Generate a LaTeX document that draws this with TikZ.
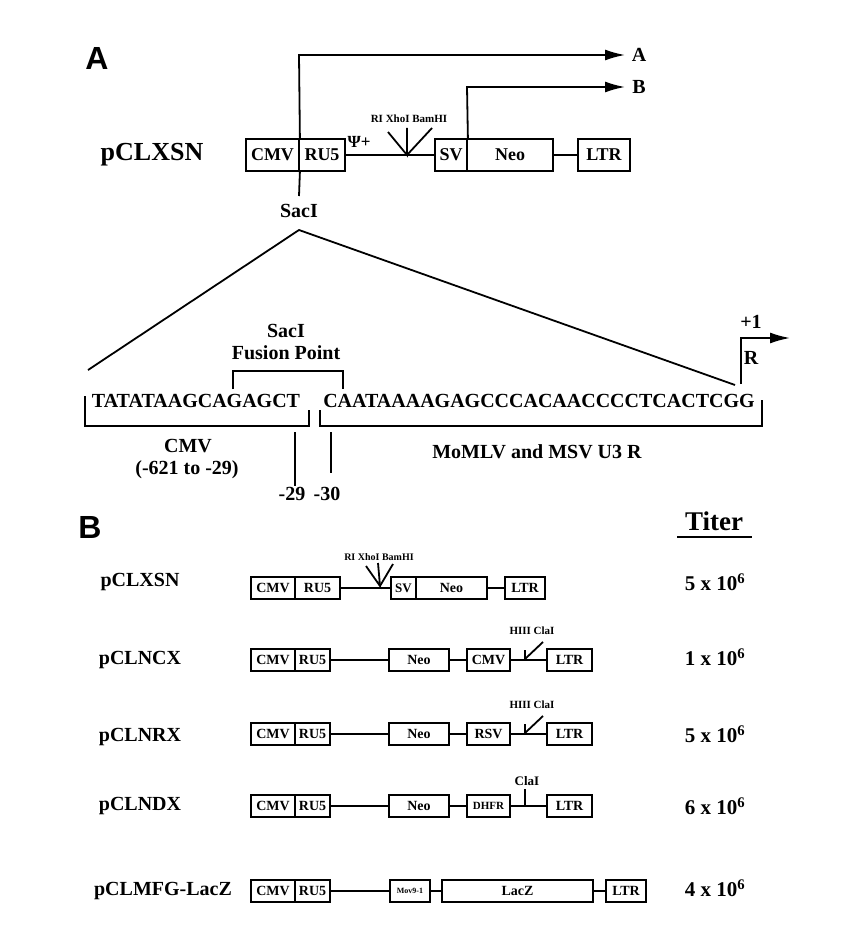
\documentclass[tikz,border=0pt]{standalone}
\usepackage{fontspec}
\usetikzlibrary{arrows.meta}
\setmainfont{Liberation Serif}
\newfontfamily\sansf{Liberation Sans}
\begin{document}
\begin{tikzpicture}[x=1pt,y=-1pt,
  bx/.style={draw,line width=1.6pt,minimum height=#1,inner sep=0pt,font=\bfseries\fontsize{14}{14}\selectfont},
  ln/.style={line width=1.8pt},
  lab/.style={font=\bfseries\fontsize{20}{20}\selectfont},
  sm/.style={font=\bfseries\fontsize{11}{11}\selectfont},
  arr/.style={line width=1.8pt,-{Latex[length=20pt,width=11pt]}}]
\useasboundingbox (0,0) rectangle (860,947);
% ---------- A ----------
\node[font=\sansf\bfseries\fontsize{32}{32}\selectfont] (LA) at (97,58) {A};
\node[font=\bfseries\fontsize{26}{26}\selectfont] (n1) at (152,155) {pCLXSN};
\tikzset{abx/.style={draw,line width=1.8pt,inner sep=0pt,minimum height=32pt,font=\bfseries\fontsize{18}{18}\selectfont}}
\node[abx,minimum width=53pt] (aCMV) at (272.5,155) {CMV};
\node[abx,minimum width=46pt] (aRU5) at (322,155) {RU5};
\node[abx,minimum width=32pt] (aSV) at (451,155) {SV};
\node[abx,minimum width=86pt] (aNeo) at (510,155) {Neo};
\node[abx,minimum width=52pt] (aLTR) at (604,155) {LTR};
\draw[ln] (aRU5.east) -- (aSV.west);
\draw[ln] (aNeo.east) -- (aLTR.west);
\coordinate (aV) at (407,155);
\draw[ln] (388,132) -- (aV) -- (407,128); \draw[ln] (aV) -- (432,128);
\node[sm] (aS) at (409,119) {RI XhoI BamHI};
\node[font=\bfseries\fontsize{17}{17}\selectfont] (psi) at (359,142) {Ψ+};
\coordinate (A1) at (299,55); \coordinate (A2) at (625,55);
\coordinate (B1) at (467,87); \coordinate (B2) at (625,87);
\draw[arr] (aCMV.north east) -- (A1) -- (A2);
\draw[arr] (aSV.north east) -- (B1) -- (B2);
\node[lab] (tA) at (639,55) {A};
\node[lab] (tB) at (639,87) {B};
\coordinate (sacb) at (299,196);
\draw[ln] (aCMV.south east) -- (sacb);
\node[lab] (sac) at (299,211) {SacI};
\coordinate (ap) at (299,230); \coordinate (lf) at (88,370); \coordinate (rt) at (735,385);
\draw[ln] (lf) -- (ap) -- (rt);
\node[lab] (fp1) at (286,331) {SacI};
\node[lab] (fp2) at (286,353) {Fusion Point};
\draw[ln] (233,389) -- (233,371) -- (343,371) -- (343,389);
\node[lab] (sq1) at (196,401) {TATATAAGCAGAGCT};
\node[lab] (sq2) at (539,401) {CAATAAAAGAGCCCACAACCCCTCACTCGG};
\draw[ln] (85,396) -- (85,426) -- (309,426) -- (309,410);
\draw[ln] (320,410) -- (320,426) -- (762,426) -- (762,400);
\coordinate (t1a) at (295,432); \coordinate (t1b) at (295,486);
\coordinate (t2a) at (331,432); \coordinate (t2b) at (331,473);
\draw[ln] (t1a) -- (t1b); \draw[ln] (t2a) -- (t2b);
\node[lab] (m29) at (292,494) {-29};
\node[lab] (m30) at (327,494) {-30};
\node[lab] (cmvl) at (188,446) {CMV};
\node[lab] (rng) at (187,470) {(-621 to -29)};
\node[lab] (mom) at (537,452) {MoMLV and MSV U3 R};
\coordinate (p0) at (741,384); \coordinate (p1) at (741,338); \coordinate (p2) at (790,338);
\draw[arr] (p0) -- (p1) -- (p2);
\node[lab] (p1l) at (751,322) {+1};
\node[lab] (Rl) at (751,358) {R};
% ---------- B ----------
\node[font=\sansf\bfseries\fontsize{32}{32}\selectfont] (LB) at (90,527) {B};
\node[font=\bfseries\fontsize{27}{27}\selectfont] (tit) at (714,521) {Titer};
\draw[ln] (677,537) -- (752,537);
\tikzset{rl/.style={font=\bfseries\fontsize{20}{20}\selectfont},
  tl/.style={font=\bfseries\fontsize{21}{21}\selectfont}}
% row 1
\node[rl] (r1) at (140,582) {pCLXSN};
\node[bx=22pt,minimum width=44pt] (c1) at (273,588) {CMV};
\node[bx=22pt,minimum width=45pt] (u1) at (317.5,588) {RU5};
\node[bx=22pt,minimum width=25pt,font=\bfseries\fontsize{13}{13}\selectfont] (s1) at (403.5,588) {SV};
\node[bx=22pt,minimum width=71pt] (ne1) at (451.5,588) {Neo};
\node[bx=22pt,minimum width=40pt] (l1) at (525,588) {LTR};
\draw[ln] (u1.east) -- (s1.west); \draw[ln] (ne1.east) -- (l1.west);
\coordinate (v1) at (380,586);
\draw[ln] (366,566) -- (v1) -- (378,563); \draw[ln] (v1) -- (393,564);
\node[sm,font=\bfseries\fontsize{10}{10}\selectfont] (st1) at (379,557) {RI XhoI BamHI};
\node[tl] (ti1) at (715,582) {5 x 10$^{\mathbf 6}$};
% row 2
\node[rl] (r2) at (140,660) {pCLNCX};
\node[bx=22pt,minimum width=44pt] (c2) at (273,660) {CMV};
\node[bx=22pt,minimum width=35pt] (u2) at (312.5,660) {RU5};
\node[bx=22pt,minimum width=60pt] (ne2) at (419,660) {Neo};
\node[bx=22pt,minimum width=43pt] (p2b) at (488.5,660) {CMV};
\node[bx=22pt,minimum width=45pt] (l2) at (569.5,660) {LTR};
\draw[ln] (u2.east) -- (ne2.west); \draw[ln] (ne2.east) -- (p2b.west); \draw[ln] (p2b.east) -- (l2.west);
\coordinate (v2) at (525,659);
\draw[ln] (v2) -- (525,650); \draw[ln] (v2) -- (543,642);
\node[sm] (st2) at (532,631) {HIII ClaI};
\node[tl] (ti2) at (715,657) {1 x 10$^{\mathbf 6}$};
% row 3
\node[rl] (r3) at (140,737) {pCLNRX};
\node[bx=22pt,minimum width=44pt] (c3) at (273,734) {CMV};
\node[bx=22pt,minimum width=35pt] (u3) at (312.5,734) {RU5};
\node[bx=22pt,minimum width=60pt] (ne3) at (419,734) {Neo};
\node[bx=22pt,minimum width=43pt] (p3) at (488.5,734) {RSV};
\node[bx=22pt,minimum width=45pt] (l3) at (569.5,734) {LTR};
\draw[ln] (u3.east) -- (ne3.west); \draw[ln] (ne3.east) -- (p3.west); \draw[ln] (p3.east) -- (l3.west);
\coordinate (v3) at (525,733);
\draw[ln] (v3) -- (525,724); \draw[ln] (v3) -- (543,716);
\node[sm] (st3) at (532,705) {HIII ClaI};
\node[tl] (ti3) at (715,734) {5 x 10$^{\mathbf 6}$};
% row 4
\node[rl] (r4) at (140,806) {pCLNDX};
\node[bx=22pt,minimum width=44pt] (c4) at (273,806) {CMV};
\node[bx=22pt,minimum width=35pt] (u4) at (312.5,806) {RU5};
\node[bx=22pt,minimum width=60pt] (ne4) at (419,806) {Neo};
\node[bx=22pt,minimum width=43pt,font=\bfseries\fontsize{11}{11}\selectfont] (p4) at (488.5,806) {DHFR};
\node[bx=22pt,minimum width=45pt] (l4) at (569.5,806) {LTR};
\draw[ln] (u4.east) -- (ne4.west); \draw[ln] (ne4.east) -- (p4.west); \draw[ln] (p4.east) -- (l4.west);
\coordinate (v4) at (525,805);
\draw[ln] (v4) -- (525,789);
\node[sm,font=\bfseries\fontsize{13}{13}\selectfont] (st4) at (527,781) {ClaI};
\node[tl] (ti4) at (715,806) {6 x 10$^{\mathbf 6}$};
% row 5
\node[rl] (r5) at (163,891) {pCLMFG-LacZ};
\node[bx=22pt,minimum width=44pt] (c5) at (273,891) {CMV};
\node[bx=22pt,minimum width=35pt] (u5) at (312.5,891) {RU5};
\node[bx=22pt,minimum width=40pt,font=\bfseries\fontsize{8}{8}\selectfont] (m5) at (410,891) {Mov9-1};
\node[bx=22pt,minimum width=151pt] (lz5) at (517.5,891) {LacZ};
\node[bx=22pt,minimum width=40pt] (l5) at (626,891) {LTR};
\draw[ln] (u5.east) -- (m5.west); \draw[ln] (m5.east) -- (lz5.west); \draw[ln] (lz5.east) -- (l5.west);
\node[tl] (ti5) at (715,888) {4 x 10$^{\mathbf 6}$};
\end{tikzpicture}
\end{document}
